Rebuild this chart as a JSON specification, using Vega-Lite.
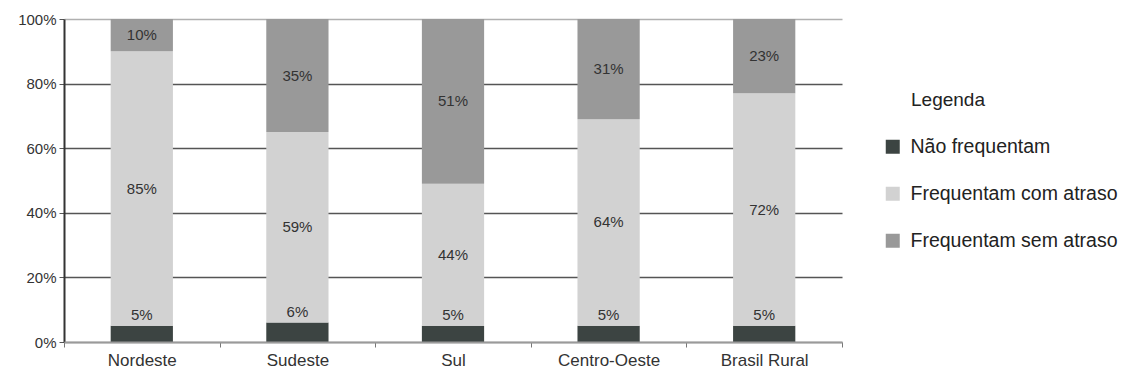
{
  "$schema": "https://vega.github.io/schema/vega-lite/v6.json",
  "width": 778,
  "height": 323,
  "autosize": {"type": "none"},
  "padding": {"left": 64, "top": 19, "right": 285, "bottom": 39},
  "background": "white",
  "config": {
    "view": {"stroke": null},
    "font": "Liberation Sans",
    "legend": {"padding": 0}
  },
  "data": {
    "values": [
      {"regiao": "Nordeste", "grupo": "Não frequentam", "ordem": 1, "valor": 0.05},
      {"regiao": "Nordeste", "grupo": "Frequentam com atraso", "ordem": 2, "valor": 0.85},
      {"regiao": "Nordeste", "grupo": "Frequentam sem atraso", "ordem": 3, "valor": 0.10},
      {"regiao": "Sudeste", "grupo": "Não frequentam", "ordem": 1, "valor": 0.06},
      {"regiao": "Sudeste", "grupo": "Frequentam com atraso", "ordem": 2, "valor": 0.59},
      {"regiao": "Sudeste", "grupo": "Frequentam sem atraso", "ordem": 3, "valor": 0.35},
      {"regiao": "Sul", "grupo": "Não frequentam", "ordem": 1, "valor": 0.05},
      {"regiao": "Sul", "grupo": "Frequentam com atraso", "ordem": 2, "valor": 0.44},
      {"regiao": "Sul", "grupo": "Frequentam sem atraso", "ordem": 3, "valor": 0.51},
      {"regiao": "Centro-Oeste", "grupo": "Não frequentam", "ordem": 1, "valor": 0.05},
      {"regiao": "Centro-Oeste", "grupo": "Frequentam com atraso", "ordem": 2, "valor": 0.64},
      {"regiao": "Centro-Oeste", "grupo": "Frequentam sem atraso", "ordem": 3, "valor": 0.31},
      {"regiao": "Brasil Rural", "grupo": "Não frequentam", "ordem": 1, "valor": 0.05},
      {"regiao": "Brasil Rural", "grupo": "Frequentam com atraso", "ordem": 2, "valor": 0.72},
      {"regiao": "Brasil Rural", "grupo": "Frequentam sem atraso", "ordem": 3, "valor": 0.23}
    ]
  },
  "encoding": {
    "x": {
      "field": "regiao",
      "type": "nominal",
      "sort": null,
      "scale": {"paddingInner": 0, "paddingOuter": 0},
      "axis": {
        "title": null,
        "labelAngle": 0,
        "labelFontSize": 17,
        "labelColor": "#333",
        "labelPadding": 5,
        "tickSize": 5,
        "tickColor": "#777",
        "tickBand": "extent",
        "domainColor": "#9a9a9a",
        "domainWidth": 2,
        "zindex": 1
      }
    }
  },
  "layer": [
    {
      "mark": {"type": "bar", "width": {"band": 0.4}},
      "encoding": {
        "y": {
          "field": "valor",
          "type": "quantitative",
          "stack": "zero",
          "scale": {"domain": [0, 1]},
          "axis": {
            "title": null,
            "values": [0, 0.2, 0.4, 0.6, 0.8, 1],
            "format": ".0%",
            "labelFontSize": 15,
            "labelColor": "#333",
            "labelPadding": 3,
            "tickSize": 5,
            "tickColor": "#555",
            "domainColor": "#333",
            "domainWidth": 2,
            "grid": true,
            "gridWidth": 1.5,
            "gridColor": {"condition": {"test": "datum.value >= 1 || datum.value <= 0", "value": "#b0b0b0"}, "value": "#555555"}
          }
        },
        "color": {
          "field": "grupo",
          "type": "nominal",
          "scale": {
            "domain": ["Não frequentam", "Frequentam com atraso", "Frequentam sem atraso"],
            "range": ["#3c4442", "#d2d2d2", "#999999"]
          },
          "legend": {
            "title": "Legenda",
            "orient": "none",
            "legendX": 847,
            "legendY": 72,
            "symbolType": "square",
            "symbolSize": 196,
            "symbolStrokeWidth": 0,
            "symbolOffset": -28,
            "labelOffset": 8,
            "labelLimit": 400,
            "labelFontSize": 19.5,
            "labelColor": "#222",
            "titleFontSize": 19,
            "titleFontWeight": "normal",
            "titleColor": "#222",
            "titlePadding": 27,
            "rowPadding": 26
          }
        },
        "order": {"field": "ordem"}
      }
    },
    {
      "mark": {"type": "text", "fontSize": 15, "color": "#333"},
      "encoding": {
        "y": {"field": "valor", "type": "quantitative", "stack": "zero", "bandPosition": 0.5},
        "text": {"condition": {"test": "datum.ordem == 1", "value": ""}, "field": "valor", "format": ".0%"},
        "order": {"field": "ordem"}
      }
    },
    {
      "transform": [{"filter": "datum.ordem == 1"}],
      "mark": {"type": "text", "fontSize": 15, "color": "#333", "baseline": "bottom", "dy": -3},
      "encoding": {
        "y": {"field": "valor", "type": "quantitative", "stack": null},
        "text": {"field": "valor", "format": ".0%"}
      }
    }
  ]
}
